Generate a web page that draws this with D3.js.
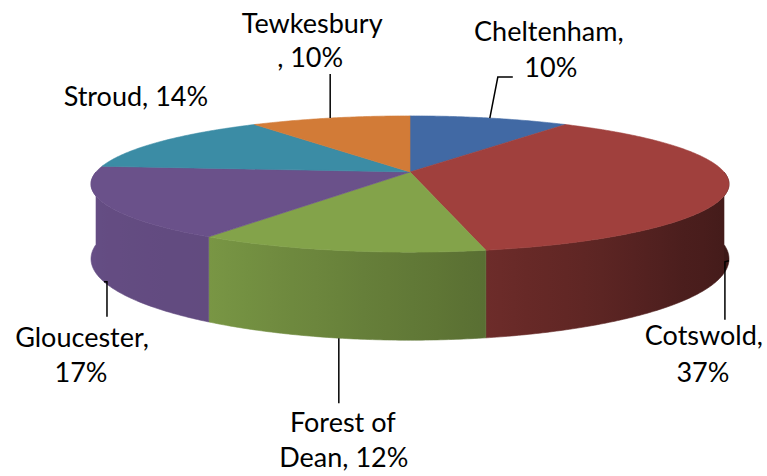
<!DOCTYPE html>
<html>
<head>
<meta charset="utf-8">
<script src="https://cdn.jsdelivr.net/npm/d3@7"></script>
<style>
  body { margin: 0; background: #fff; }
  text { font-family: Lato, "Open Sans", sans-serif; fill: #000; }
</style>
</head>
<body>
<div id="chart"></div>
<script>
// data (shares in %, labels are rounded)
var districts = ["Cheltenham", "Cotswold", "Forest of Dean", "Gloucester", "Stroud", "Tewkesbury"];
var shares = [9.6, 37.2, 12.4, 17.2, 14.0, 9.6];
var topColors = ["#4169a4", "#a0403d", "#83a34a", "#6a518a", "#3b8ca5", "#d27b37"];
// where each label wraps (character index in "name, xx%")
var wrapAt = [11, 9, 9, 11, 99, 10];

var width = 767, height = 476;
var fontSize = 27;

// pie geometry (tilted disc with a bit of perspective)
var CX = 410, CY = 172, RX = 314, RY = 66, P = 0.1765, DEPTH = 72.5;

var svg = d3.select("#chart")
  .append("svg")
  .attr("width", width)
  .attr("height", height);

svg.append("rect").attr("width", width).attr("height", height).attr("fill", "#fff");

var pie = d3.pie().sort(null).value(function(d) { return d; });
var arcs = pie(shares);

function proj(theta, depth) {
  var u = Math.sin(theta), v = -Math.cos(theta);
  var w = 1 - P * v;
  return [CX + RX * u / w, CY + (RY * v + depth) / w];
}

function sample(a0, a1, depth) {
  var n = Math.max(2, Math.ceil((a1 - a0) / 0.01));
  return d3.range(n + 1).map(function(i) { return proj(a0 + (a1 - a0) * i / n, depth); });
}

var line = d3.line();
var deg = Math.PI / 180;

// side lighting: darker towards the right
var shade = d3.scaleLinear()
  .domain([90, 130, 168, 213, 275].map(function(d) { return d * deg; }))
  .range([0.38, 0.47, 0.68, 0.92, 0.97])
  .clamp(true);

function darken(c, f) {
  var r = d3.rgb(c);
  return d3.rgb(r.r * f, r.g * f, r.b * f).formatHex();
}

var defs = svg.append("defs");

// walls (front half only)
var walls = svg.append("g");
arcs.forEach(function(a, i) {
  var s = Math.max(a.startAngle, Math.PI / 2);
  var e = Math.min(a.endAngle, 3 * Math.PI / 2);
  if (s >= e) return;
  var xs = proj(s, 0)[0], xe = proj(e, 0)[0];
  var grad = defs.append("linearGradient")
    .attr("id", "wall" + i)
    .attr("gradientUnits", "userSpaceOnUse")
    .attr("x1", xs).attr("x2", xe).attr("y1", 0).attr("y2", 0);
  d3.range(13).forEach(function(k) {
    var t = s + (e - s) * k / 12;
    grad.append("stop")
      .attr("offset", (proj(t, 0)[0] - xs) / (xe - xs))
      .attr("stop-color", darken(topColors[i], shade(t)));
  });
  var pts = sample(s, e, 0).concat(sample(s, e, DEPTH).reverse());
  walls.append("path")
    .attr("d", line(pts) + "Z")
    .attr("fill", "url(#wall" + i + ")")
    .attr("stroke", "url(#wall" + i + ")")
    .attr("stroke-width", 0.6);
});

// top faces
var tops = svg.append("g");
arcs.forEach(function(a, i) {
  var pts = [[CX, CY]].concat(sample(a.startAngle, a.endAngle, 0));
  tops.append("path")
    .attr("d", line(pts) + "Z")
    .attr("fill", topColors[i])
    .attr("stroke", topColors[i])
    .attr("stroke-width", 0.6);
});

// labels: anchor on rim, leader, text block offset from anchor
// anchor depth: 0 = top rim, DEPTH = bottom rim
var labelLayout = [
  { depth: 0,     leader: [[8, -41], [23, -41]], text: [[59, -77], [61, -41]] },
  { depth: DEPTH, leader: [[-4, 1], [-4, 59]],  text: [[-25, 84], [-26, 121]] },
  { depth: DEPTH, leader: [[0, 4], [0, 65]],    text: [[4, 94], [5, 129]] },
  { depth: DEPTH, leader: [[3, 0], [3, 35]],    text: [[-22, 65], [-23, 100]] },
  { depth: 0,     leader: [],                   text: [[-25, -35]] },
  { depth: 0,     leader: [[0, 0], [0, -44]],   text: [[-18, -85], [-20, -51]] }
];

var labels = svg.append("g");
arcs.forEach(function(a, i) {
  var mid = (a.startAngle + a.endAngle) / 2;
  var L = labelLayout[i];
  var anchor = proj(mid, L.depth);
  if (L.leader.length) {
    var lp = [anchor].concat(L.leader.map(function(o) { return [anchor[0] + o[0], anchor[1] + o[1]]; }));
    labels.append("path")
      .attr("d", line(lp))
      .attr("fill", "none")
      .attr("stroke", "#000")
      .attr("stroke-width", 1.5);
  }
  var full = districts[i] + ", " + Math.round(shares[i]) + "%";
  var lines = [full.slice(0, wrapAt[i]), full.slice(wrapAt[i]).trim()].filter(function(s) { return s.length; });
  lines.forEach(function(str, k) {
    labels.append("text")
      .attr("x", anchor[0] + L.text[k][0])
      .attr("y", anchor[1] + L.text[k][1])
      .attr("text-anchor", "middle")
      .style("font-size", fontSize + "px")
      .text(str);
  });
});
</script>
</body>
</html>
